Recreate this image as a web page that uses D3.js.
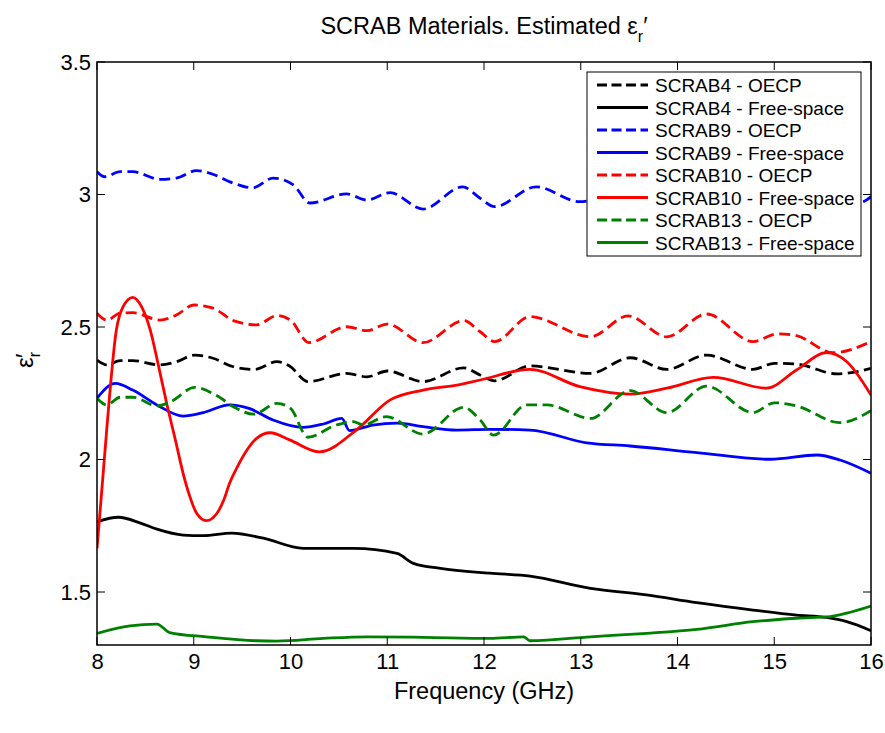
<!DOCTYPE html>
<html><head><meta charset="utf-8">
<script src="https://cdn.jsdelivr.net/npm/d3@7/dist/d3.min.js"></script>
<style>body{margin:0;background:#fff}svg{display:block}text{font-family:"Liberation Sans",Arial,sans-serif}</style>
</head><body><svg id="c" width="885" height="733"></svg>
<script>
const xTicks = [8,9,10,11,12,13,14,15,16];
const yTicks = [1.5,2,2.5,3,3.5];
const legendLabels = ["SCRAB4 - OECP","SCRAB4 - Free-space","SCRAB9 - OECP","SCRAB9 - Free-space","SCRAB10 - OECP","SCRAB10 - Free-space","SCRAB13 - OECP","SCRAB13 - Free-space"];

const scrab4Oecp = [[8.0,2.375],[8.10,2.357],[8.24,2.373],[8.37,2.373],[8.65,2.357],[8.82,2.369],[9.01,2.394],[9.20,2.382],[9.41,2.350],[9.63,2.340],[9.86,2.369],[9.99,2.353],[10.18,2.294],[10.58,2.325],[10.79,2.312],[11.0,2.334],[11.37,2.294],[11.79,2.346],[11.96,2.319],[12.11,2.297],[12.475,2.353],[13.10,2.325],[13.51,2.384],[13.89,2.340],[14.30,2.394],[14.78,2.340],[15.0,2.363],[15.23,2.360],[15.65,2.323],[16.0,2.344]];
const scrab4Free = [[8.0,1.765],[8.22,1.782],[8.45,1.760],[8.62,1.737],[8.89,1.715],[9.10,1.713],[9.39,1.722],[9.72,1.703],[10.13,1.665],[10.65,1.665],[11.10,1.646],[11.27,1.608],[11.55,1.589],[12.06,1.571],[12.475,1.560],[13.10,1.514],[13.68,1.489],[14.2,1.460],[14.78,1.432],[15.23,1.413],[15.54,1.404],[15.75,1.388],[16.0,1.354]];
const scrab9Oecp = [[8.0,3.086],[8.08,3.067],[8.24,3.086],[8.37,3.086],[8.65,3.057],[8.82,3.062],[9.03,3.090],[9.17,3.080],[9.41,3.043],[9.61,3.025],[9.82,3.062],[10.03,3.036],[10.20,2.968],[10.58,3.002],[10.79,2.979],[11.03,3.007],[11.37,2.945],[11.78,3.029],[11.96,2.986],[12.11,2.954],[12.54,3.029],[12.99,2.973],[13.4,3.000],[13.8,2.960],[14.2,3.000],[14.6,2.955],[15.0,2.990],[15.4,2.950],[15.92,2.973],[16.0,2.992]];
const scrab9Free = [[8.0,2.231],[8.19,2.287],[8.37,2.262],[8.62,2.206],[8.89,2.164],[9.10,2.177],[9.37,2.206],[9.57,2.193],[9.82,2.149],[10.13,2.121],[10.34,2.134],[10.53,2.155],[10.61,2.109],[10.85,2.130],[11.10,2.137],[11.37,2.124],[11.72,2.111],[12.06,2.114],[12.475,2.111],[13.06,2.063],[13.51,2.051],[14.2,2.026],[14.96,2.001],[15.44,2.017],[15.68,1.998],[16.0,1.948]];
const scrab10Oecp = [[8.0,2.552],[8.10,2.526],[8.24,2.552],[8.37,2.554],[8.65,2.526],[8.82,2.545],[9.00,2.583],[9.20,2.571],[9.41,2.524],[9.65,2.508],[9.86,2.543],[10.0,2.526],[10.19,2.441],[10.58,2.501],[10.79,2.486],[11.0,2.511],[11.37,2.441],[11.79,2.524],[11.96,2.482],[12.11,2.445],[12.475,2.539],[13.10,2.463],[13.49,2.542],[13.89,2.463],[14.30,2.549],[14.78,2.445],[15.03,2.474],[15.23,2.467],[15.61,2.403],[16.0,2.445]];
const scrab10Free = [[8.0,1.665],[8.05,1.885],[8.10,2.111],[8.20,2.489],[8.27,2.577],[8.37,2.612],[8.46,2.577],[8.55,2.489],[8.63,2.363],[8.72,2.212],[8.81,2.074],[8.89,1.948],[8.96,1.860],[9.03,1.797],[9.13,1.769],[9.24,1.797],[9.31,1.847],[9.37,1.910],[9.46,1.979],[9.55,2.036],[9.65,2.080],[9.79,2.101],[9.99,2.074],[10.30,2.029],[10.68,2.111],[11.03,2.225],[11.37,2.262],[11.72,2.281],[11.96,2.300],[12.475,2.340],[12.99,2.275],[13.51,2.247],[13.89,2.269],[14.37,2.310],[14.92,2.269],[15.23,2.338],[15.54,2.403],[15.75,2.369],[16.0,2.243]];
const scrab13Oecp = [[8.0,2.231],[8.10,2.206],[8.24,2.235],[8.37,2.235],[8.62,2.202],[8.76,2.218],[9.01,2.272],[9.23,2.243],[9.44,2.193],[9.62,2.171],[9.86,2.212],[10.0,2.193],[10.18,2.084],[10.47,2.130],[10.65,2.143],[10.75,2.130],[10.99,2.162],[11.37,2.096],[11.79,2.197],[11.96,2.149],[12.10,2.092],[12.44,2.206],[12.65,2.206],[13.10,2.155],[13.51,2.260],[13.89,2.177],[14.30,2.277],[14.78,2.177],[15.0,2.214],[15.23,2.202],[15.68,2.139],[16.0,2.184]];
const scrab13Free = [[8.0,1.344],[8.34,1.372],[8.62,1.379],[8.75,1.347],[9.13,1.331],[9.65,1.316],[9.86,1.315],[10.34,1.325],[10.79,1.331],[11.37,1.329],[12.06,1.325],[12.41,1.331],[12.475,1.316],[13.10,1.331],[13.68,1.344],[14.2,1.359],[14.78,1.388],[15.23,1.401],[15.58,1.407],[15.75,1.420],[16.0,1.447]];

const seriesData = [scrab4Oecp,scrab4Free,scrab9Oecp,scrab9Free,scrab10Oecp,scrab10Free,scrab13Oecp,scrab13Free];
const colors = ["#000000","#000000","#0000ff","#0000ff","#ff0000","#ff0000","#008000","#008000"];
const dashed = [true,false,true,false,true,false,true,false];

const L=97,R=871,T=62,B=645;
const svg=d3.select("#c");
const x=d3.scaleLinear().domain([8,16]).range([L,R]);
const y=d3.scaleLinear().domain([1.3,3.5]).range([B,T]);

svg.append("defs").append("clipPath").attr("id","clip").append("rect")
  .attr("x",L).attr("y",T).attr("width",R-L).attr("height",B-T);

const line=d3.line().x(d=>x(d[0])).y(d=>y(d[1])).curve(d3.curveMonotoneX);
const g=svg.append("g").attr("clip-path","url(#clip)");
seriesData.forEach((s,i)=>{
  g.append("path").datum(s).attr("d",line).attr("fill","none")
   .attr("stroke",colors[i]).attr("stroke-width",2.8)
   .attr("stroke-dasharray",dashed[i]?"11,5.5":null);
});

// axes
const tickFont=22;
const ax=svg.append("g").attr("transform",`translate(0,${B})`).call(d3.axisBottom(x).tickValues(xTicks).tickSize(0).tickPadding(8).tickFormat(d3.format("d")));
const ay=svg.append("g").attr("transform",`translate(${L},0)`).call(d3.axisLeft(y).tickValues(yTicks).tickSize(0).tickPadding(6).tickFormat(d=>d===2||d===3?String(d):d3.format(".1f")(d)));
[ax,ay].forEach(a=>{a.select(".domain").remove();a.selectAll("text").attr("font-size",tickFont).attr("fill","#000").attr("font-family","Liberation Sans, Arial, sans-serif");});
// inward ticks
const tl=8;
xTicks.forEach(t=>{
  svg.append("line").attr("x1",x(t)).attr("x2",x(t)).attr("y1",B).attr("y2",B-tl).attr("stroke","#000");
  svg.append("line").attr("x1",x(t)).attr("x2",x(t)).attr("y1",T).attr("y2",T+tl).attr("stroke","#000");
});
yTicks.forEach(t=>{
  svg.append("line").attr("x1",L).attr("x2",L+tl).attr("y1",y(t)).attr("y2",y(t)).attr("stroke","#000");
  svg.append("line").attr("x1",R).attr("x2",R-tl).attr("y1",y(t)).attr("y2",y(t)).attr("stroke","#000");
});
svg.append("rect").attr("x",L).attr("y",T).attr("width",R-L).attr("height",B-T).attr("fill","none").attr("stroke","#000").attr("stroke-width",1.5);

// title
const title=svg.append("text").attr("x",484).attr("y",34).attr("text-anchor","middle").attr("font-size",23.5);
title.append("tspan").text("SCRAB Materials. Estimated ε");
title.append("tspan").attr("font-size",16).attr("dy",8).text("r");
title.append("tspan").attr("dy",-8).text("′");

// x label
svg.append("text").attr("x",484).attr("y",699).attr("text-anchor","middle").attr("font-size",23.5).text("Frequency (GHz)");
// y label
const yl=svg.append("text").attr("transform","translate(33,360) rotate(-90)").attr("text-anchor","middle").attr("font-size",24);
yl.append("tspan").text("ε");
yl.append("tspan").attr("font-size",16).attr("dy",7).text("r");
yl.append("tspan").attr("dy",-7).attr("dx",-6).text("′");

// legend
const lx=587,ly=72,lw=274,lh=184;
const lg=svg.append("g");
lg.append("rect").attr("x",lx).attr("y",ly).attr("width",lw).attr("height",lh).attr("fill","#fff").attr("stroke","#000").attr("stroke-width",1);
legendLabels.forEach((lab,i)=>{
  const yy=85+i*22.5;
  lg.append("line").attr("x1",597).attr("x2",648).attr("y1",yy).attr("y2",yy)
    .attr("stroke",colors[i]).attr("stroke-width",2.8).attr("stroke-dasharray",dashed[i]?"10,4.5":null);
  lg.append("text").attr("x",655).attr("y",yy+7).attr("font-size",19).text(lab);
});
</script></body></html>
